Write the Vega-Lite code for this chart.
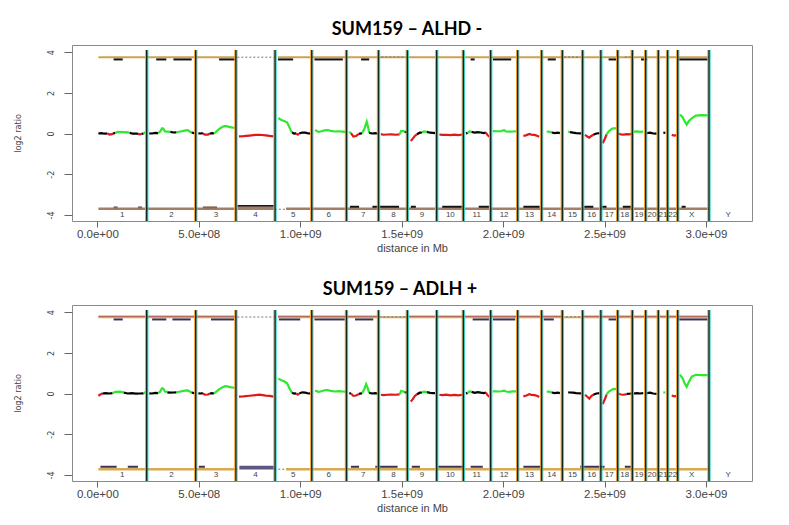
{
  "$schema": "https://vega.github.io/schema/vega-lite/v6.json",
  "padding": {"left": 12, "top": 20, "right": 0, "bottom": 0},
  "background": "white",
  "spacing": 26,
  "config": {
    "view": {"stroke": "#8a8a8a", "strokeWidth": 1},
    "axisX": {"tickSize": 6, "tickColor": "#666", "domain": false, "grid": false, "labelFont": "Liberation Sans", "labelFontSize": 11.5, "labelColor": "#444", "labelPadding": 1, "titleFont": "Liberation Sans", "titleFontSize": 11, "titleFontWeight": "normal", "titleColor": "#444", "titlePadding": 3, "labelFlush": false},
    "axisY": {"tickSize": 8, "tickColor": "#666", "domain": false, "grid": false, "labelFont": "DejaVu Sans Condensed", "labelFontSize": 9, "labelColor": "#444", "titleFont": "DejaVu Sans Condensed", "titleFontSize": 9, "titleFontWeight": "normal", "titleColor": "#444", "titleX": -55, "titleBaseline": "middle", "labelFlush": false},
    "title": {"font": "Lato", "fontSize": 18, "fontWeight": "bold", "color": "black", "offset": 6}
  },
  "datasets": {
    "bounds": [
      {"pos": 0.2435}, {"pos": 0.485}, {"pos": 0.683}, {"pos": 0.876}, {"pos": 1.057}, {"pos": 1.228}, {"pos": 1.386}, {"pos": 1.528}, {"pos": 1.673}, {"pos": 1.804}, {"pos": 1.939}, {"pos": 2.072}, {"pos": 2.19}, {"pos": 2.292}, {"pos": 2.392}, {"pos": 2.482}, {"pos": 2.565}, {"pos": 2.637}, {"pos": 2.703}, {"pos": 2.765}, {"pos": 2.811}, {"pos": 2.861}, {"pos": 3.015}
    ],
    "labs": [
      {"lab": "1", "pos": 0.122}, {"lab": "2", "pos": 0.365}, {"lab": "3", "pos": 0.585}, {"lab": "4", "pos": 0.78}, {"lab": "5", "pos": 0.965}, {"lab": "6", "pos": 1.14}, {"lab": "7", "pos": 1.31}, {"lab": "8", "pos": 1.46}, {"lab": "9", "pos": 1.6}, {"lab": "10", "pos": 1.74}, {"lab": "11", "pos": 1.87}, {"lab": "12", "pos": 2.005}, {"lab": "13", "pos": 2.13}, {"lab": "14", "pos": 2.24}, {"lab": "15", "pos": 2.342}, {"lab": "16", "pos": 2.437}, {"lab": "17", "pos": 2.523}, {"lab": "18", "pos": 2.6}, {"lab": "19", "pos": 2.67}, {"lab": "20", "pos": 2.734}, {"lab": "21", "pos": 2.788}, {"lab": "22", "pos": 2.836}, {"lab": "X", "pos": 2.93}, {"lab": "Y", "pos": 3.11}
    ],
    "mid1": [
      {"pos":0.005,"val":0.0,"seg":1,"call":"n"},{"pos":0.02,"val":0.02,"seg":1,"call":"n"},{"pos":0.035,"val":-0.01,"seg":1,"call":"n"},{"pos":0.05,"val":0.0,"seg":1,"call":"n"},
      {"pos":0.05,"val":0.0,"seg":2,"call":"l"},{"pos":0.06,"val":-0.05,"seg":2,"call":"l"},{"pos":0.072,"val":-0.03,"seg":2,"call":"l"},{"pos":0.078,"val":0.0,"seg":2,"call":"l"},
      {"pos":0.078,"val":0.0,"seg":3,"call":"n"},{"pos":0.088,"val":0.03,"seg":3,"call":"n"},
      {"pos":0.088,"val":0.03,"seg":4,"call":"g"},{"pos":0.1,"val":0.08,"seg":4,"call":"g"},{"pos":0.125,"val":0.07,"seg":4,"call":"g"},{"pos":0.15,"val":0.06,"seg":4,"call":"g"},{"pos":0.16,"val":0.03,"seg":4,"call":"g"},
      {"pos":0.16,"val":0.03,"seg":5,"call":"n"},{"pos":0.175,"val":-0.01,"seg":5,"call":"n"},{"pos":0.19,"val":0.0,"seg":5,"call":"n"},{"pos":0.2,"val":-0.02,"seg":5,"call":"n"},
      {"pos":0.2,"val":-0.02,"seg":6,"call":"l"},{"pos":0.21,"val":-0.04,"seg":6,"call":"l"},{"pos":0.218,"val":-0.02,"seg":6,"call":"l"},
      {"pos":0.218,"val":-0.02,"seg":7,"call":"n"},{"pos":0.228,"val":0.0,"seg":7,"call":"n"},
      {"pos":0.228,"val":0.0,"seg":8,"call":"g"},{"pos":0.236,"val":0.06,"seg":8,"call":"g"},{"pos":0.24,"val":0.08,"seg":8,"call":"g"},
      {"pos":0.256,"val":0.01,"seg":9,"call":"n"},{"pos":0.27,"val":0.0,"seg":9,"call":"n"},{"pos":0.285,"val":0.03,"seg":9,"call":"n"},{"pos":0.3,"val":0.02,"seg":9,"call":"n"},
      {"pos":0.3,"val":0.02,"seg":10,"call":"g"},{"pos":0.31,"val":0.1,"seg":10,"call":"g"},{"pos":0.318,"val":0.25,"seg":10,"call":"g"},{"pos":0.325,"val":0.24,"seg":10,"call":"g"},{"pos":0.333,"val":0.1,"seg":10,"call":"g"},{"pos":0.345,"val":0.09,"seg":10,"call":"g"},{"pos":0.36,"val":0.08,"seg":10,"call":"g"},
      {"pos":0.36,"val":0.08,"seg":11,"call":"n"},{"pos":0.375,"val":0.05,"seg":11,"call":"n"},{"pos":0.39,"val":0.06,"seg":11,"call":"n"},
      {"pos":0.39,"val":0.06,"seg":12,"call":"g"},{"pos":0.41,"val":0.1,"seg":12,"call":"g"},{"pos":0.43,"val":0.14,"seg":12,"call":"g"},{"pos":0.445,"val":0.17,"seg":12,"call":"g"},{"pos":0.455,"val":0.1,"seg":12,"call":"g"},{"pos":0.465,"val":0.05,"seg":12,"call":"g"},
      {"pos":0.465,"val":0.05,"seg":13,"call":"n"},{"pos":0.475,"val":0.02,"seg":13,"call":"n"},{"pos":0.482,"val":0.03,"seg":13,"call":"n"},
      {"pos":0.498,"val":0.01,"seg":14,"call":"n"},{"pos":0.51,"val":0.0,"seg":14,"call":"n"},{"pos":0.52,"val":0.02,"seg":14,"call":"n"},
      {"pos":0.52,"val":0.0,"seg":15,"call":"l"},{"pos":0.53,"val":-0.05,"seg":15,"call":"l"},{"pos":0.545,"val":-0.05,"seg":15,"call":"l"},{"pos":0.555,"val":0.0,"seg":15,"call":"l"},
      {"pos":0.555,"val":0.0,"seg":16,"call":"n"},{"pos":0.565,"val":0.02,"seg":16,"call":"n"},{"pos":0.575,"val":0.0,"seg":16,"call":"n"},
      {"pos":0.575,"val":0.0,"seg":17,"call":"g"},{"pos":0.585,"val":0.08,"seg":17,"call":"g"},{"pos":0.6,"val":0.22,"seg":17,"call":"g"},{"pos":0.615,"val":0.32,"seg":17,"call":"g"},{"pos":0.63,"val":0.37,"seg":17,"call":"g"},{"pos":0.645,"val":0.34,"seg":17,"call":"g"},{"pos":0.66,"val":0.3,"seg":17,"call":"g"},{"pos":0.68,"val":0.27,"seg":17,"call":"g"},
      {"pos":0.698,"val":-0.14,"seg":18,"call":"l"},{"pos":0.72,"val":-0.13,"seg":18,"call":"l"},{"pos":0.75,"val":-0.1,"seg":18,"call":"l"},{"pos":0.78,"val":-0.07,"seg":18,"call":"l"},{"pos":0.8,"val":-0.06,"seg":18,"call":"l"},{"pos":0.83,"val":-0.09,"seg":18,"call":"l"},{"pos":0.85,"val":-0.12,"seg":18,"call":"l"},{"pos":0.868,"val":-0.14,"seg":18,"call":"l"},
      {"pos":0.892,"val":0.76,"seg":19,"call":"g"},{"pos":0.905,"val":0.68,"seg":19,"call":"g"},{"pos":0.92,"val":0.62,"seg":19,"call":"g"},{"pos":0.935,"val":0.55,"seg":19,"call":"g"},{"pos":0.945,"val":0.35,"seg":19,"call":"g"},{"pos":0.955,"val":0.12,"seg":19,"call":"g"},{"pos":0.96,"val":0.05,"seg":19,"call":"g"},
      {"pos":0.96,"val":0.05,"seg":20,"call":"n"},{"pos":0.97,"val":0.0,"seg":20,"call":"n"},{"pos":0.98,"val":0.01,"seg":20,"call":"n"},
      {"pos":0.98,"val":0.0,"seg":21,"call":"l"},{"pos":0.988,"val":-0.05,"seg":21,"call":"l"},{"pos":0.995,"val":-0.03,"seg":21,"call":"l"},
      {"pos":0.995,"val":0.0,"seg":22,"call":"n"},{"pos":1.01,"val":0.05,"seg":22,"call":"n"},{"pos":1.025,"val":0.04,"seg":22,"call":"n"},{"pos":1.04,"val":0.0,"seg":22,"call":"n"},{"pos":1.052,"val":0.01,"seg":22,"call":"n"},
      {"pos":1.073,"val":0.17,"seg":23,"call":"g"},{"pos":1.09,"val":0.08,"seg":23,"call":"g"},{"pos":1.1,"val":0.1,"seg":23,"call":"g"},{"pos":1.12,"val":0.15,"seg":23,"call":"g"},{"pos":1.135,"val":0.17,"seg":23,"call":"g"},{"pos":1.15,"val":0.13,"seg":23,"call":"g"},{"pos":1.17,"val":0.1,"seg":23,"call":"g"},{"pos":1.19,"val":0.11,"seg":23,"call":"g"},{"pos":1.21,"val":0.09,"seg":23,"call":"g"},{"pos":1.226,"val":0.07,"seg":23,"call":"g"},
      {"pos":1.242,"val":0.08,"seg":24,"call":"g"},{"pos":1.25,"val":0.02,"seg":24,"call":"g"},
      {"pos":1.25,"val":0.02,"seg":25,"call":"l"},{"pos":1.262,"val":-0.15,"seg":25,"call":"l"},{"pos":1.275,"val":-0.12,"seg":25,"call":"l"},{"pos":1.29,"val":-0.02,"seg":25,"call":"l"},
      {"pos":1.29,"val":-0.02,"seg":26,"call":"n"},{"pos":1.305,"val":0.02,"seg":26,"call":"n"},
      {"pos":1.305,"val":0.02,"seg":27,"call":"g"},{"pos":1.315,"val":0.2,"seg":27,"call":"g"},{"pos":1.328,"val":0.58,"seg":27,"call":"g"},{"pos":1.335,"val":0.3,"seg":27,"call":"g"},{"pos":1.34,"val":0.03,"seg":27,"call":"g"},
      {"pos":1.34,"val":0.03,"seg":28,"call":"n"},{"pos":1.355,"val":0.0,"seg":28,"call":"n"},{"pos":1.37,"val":0.02,"seg":28,"call":"n"},{"pos":1.383,"val":0.0,"seg":28,"call":"n"},
      {"pos":1.398,"val":-0.03,"seg":29,"call":"l"},{"pos":1.41,"val":-0.06,"seg":29,"call":"l"},{"pos":1.43,"val":-0.05,"seg":29,"call":"l"},{"pos":1.45,"val":-0.04,"seg":29,"call":"l"},{"pos":1.47,"val":-0.06,"seg":29,"call":"l"},{"pos":1.49,"val":-0.04,"seg":29,"call":"l"},
      {"pos":1.49,"val":-0.04,"seg":30,"call":"g"},{"pos":1.497,"val":0.12,"seg":30,"call":"g"},{"pos":1.51,"val":0.12,"seg":30,"call":"g"},{"pos":1.515,"val":0.08,"seg":30,"call":"g"},
      {"pos":1.515,"val":0.08,"seg":31,"call":"n"},{"pos":1.525,"val":0.06,"seg":31,"call":"n"},
      {"pos":1.545,"val":-0.37,"seg":32,"call":"l"},{"pos":1.555,"val":-0.25,"seg":32,"call":"l"},{"pos":1.565,"val":-0.12,"seg":32,"call":"l"},{"pos":1.575,"val":-0.04,"seg":32,"call":"l"},
      {"pos":1.575,"val":-0.04,"seg":33,"call":"n"},{"pos":1.59,"val":0.04,"seg":33,"call":"n"},{"pos":1.6,"val":0.05,"seg":33,"call":"n"},
      {"pos":1.6,"val":0.05,"seg":34,"call":"g"},{"pos":1.61,"val":0.1,"seg":34,"call":"g"},{"pos":1.625,"val":0.08,"seg":34,"call":"g"},
      {"pos":1.625,"val":0.08,"seg":35,"call":"n"},{"pos":1.64,"val":0.04,"seg":35,"call":"n"},{"pos":1.655,"val":0.03,"seg":35,"call":"n"},{"pos":1.665,"val":0.02,"seg":35,"call":"n"},
      {"pos":1.686,"val":-0.05,"seg":36,"call":"l"},{"pos":1.7,"val":-0.07,"seg":36,"call":"l"},{"pos":1.72,"val":-0.06,"seg":36,"call":"l"},{"pos":1.74,"val":-0.08,"seg":36,"call":"l"},{"pos":1.76,"val":-0.06,"seg":36,"call":"l"},{"pos":1.78,"val":-0.08,"seg":36,"call":"l"},{"pos":1.8,"val":-0.05,"seg":36,"call":"l"},
      {"pos":1.817,"val":0.0,"seg":37,"call":"n"},{"pos":1.825,"val":0.03,"seg":37,"call":"n"},
      {"pos":1.825,"val":0.03,"seg":38,"call":"g"},{"pos":1.835,"val":0.1,"seg":38,"call":"g"},{"pos":1.845,"val":0.08,"seg":38,"call":"g"},
      {"pos":1.845,"val":0.08,"seg":39,"call":"n"},{"pos":1.86,"val":0.04,"seg":39,"call":"n"},{"pos":1.875,"val":0.07,"seg":39,"call":"n"},{"pos":1.89,"val":0.05,"seg":39,"call":"n"},{"pos":1.905,"val":0.02,"seg":39,"call":"n"},{"pos":1.915,"val":0.04,"seg":39,"call":"n"},
      {"pos":1.915,"val":0.04,"seg":40,"call":"l"},{"pos":1.925,"val":-0.1,"seg":40,"call":"l"},{"pos":1.935,"val":-0.17,"seg":40,"call":"l"},
      {"pos":1.949,"val":0.12,"seg":41,"call":"g"},{"pos":1.97,"val":0.11,"seg":41,"call":"g"},{"pos":1.99,"val":0.12,"seg":41,"call":"g"},{"pos":2.005,"val":0.16,"seg":41,"call":"g"},{"pos":2.015,"val":0.1,"seg":41,"call":"g"},{"pos":2.03,"val":0.09,"seg":41,"call":"g"},{"pos":2.05,"val":0.1,"seg":41,"call":"g"},{"pos":2.067,"val":0.11,"seg":41,"call":"g"},
      {"pos":2.1,"val":-0.12,"seg":42,"call":"l"},{"pos":2.115,"val":-0.08,"seg":42,"call":"l"},{"pos":2.13,"val":-0.02,"seg":42,"call":"l"},{"pos":2.14,"val":-0.06,"seg":42,"call":"l"},{"pos":2.155,"val":-0.07,"seg":42,"call":"l"},{"pos":2.17,"val":-0.12,"seg":42,"call":"l"},{"pos":2.178,"val":-0.16,"seg":42,"call":"l"},
      {"pos":2.215,"val":0.1,"seg":43,"call":"g"},{"pos":2.23,"val":0.08,"seg":43,"call":"g"},{"pos":2.24,"val":0.05,"seg":43,"call":"g"},
      {"pos":2.24,"val":0.05,"seg":44,"call":"n"},{"pos":2.255,"val":0.02,"seg":44,"call":"n"},{"pos":2.27,"val":0.04,"seg":44,"call":"n"},{"pos":2.28,"val":0.02,"seg":44,"call":"n"},
      {"pos":2.321,"val":0.09,"seg":45,"call":"g"},{"pos":2.33,"val":0.07,"seg":45,"call":"g"},
      {"pos":2.33,"val":0.07,"seg":46,"call":"n"},{"pos":2.345,"val":0.04,"seg":46,"call":"n"},{"pos":2.36,"val":0.02,"seg":46,"call":"n"},{"pos":2.38,"val":0.01,"seg":46,"call":"n"},{"pos":2.392,"val":0.0,"seg":46,"call":"n"},
      {"pos":2.404,"val":-0.06,"seg":47,"call":"l"},{"pos":2.415,"val":-0.15,"seg":47,"call":"l"},{"pos":2.425,"val":-0.2,"seg":47,"call":"l"},{"pos":2.435,"val":-0.12,"seg":47,"call":"l"},{"pos":2.445,"val":-0.06,"seg":47,"call":"l"},
      {"pos":2.445,"val":-0.06,"seg":48,"call":"n"},{"pos":2.46,"val":0.0,"seg":48,"call":"n"},{"pos":2.478,"val":0.02,"seg":48,"call":"n"},
      {"pos":2.491,"val":-0.48,"seg":49,"call":"l"},{"pos":2.5,"val":-0.3,"seg":49,"call":"l"},{"pos":2.51,"val":-0.05,"seg":49,"call":"l"},
      {"pos":2.51,"val":-0.05,"seg":50,"call":"g"},{"pos":2.52,"val":0.1,"seg":50,"call":"g"},{"pos":2.535,"val":0.22,"seg":50,"call":"g"},{"pos":2.543,"val":0.25,"seg":50,"call":"g"},{"pos":2.56,"val":0.25,"seg":50,"call":"g"},
      {"pos":2.568,"val":0.0,"seg":51,"call":"l"},{"pos":2.58,"val":-0.04,"seg":51,"call":"l"},{"pos":2.595,"val":-0.05,"seg":51,"call":"l"},{"pos":2.61,"val":-0.03,"seg":51,"call":"l"},{"pos":2.625,"val":-0.04,"seg":51,"call":"l"},{"pos":2.634,"val":0.0,"seg":51,"call":"l"},
      {"pos":2.642,"val":0.09,"seg":52,"call":"g"},{"pos":2.66,"val":0.1,"seg":52,"call":"g"},{"pos":2.675,"val":0.08,"seg":52,"call":"g"},{"pos":2.691,"val":0.09,"seg":52,"call":"g"},
      {"pos":2.708,"val":0.02,"seg":53,"call":"n"},{"pos":2.725,"val":0.04,"seg":53,"call":"n"},{"pos":2.74,"val":0.0,"seg":53,"call":"n"},{"pos":2.757,"val":-0.01,"seg":53,"call":"n"},
      {"pos":2.79,"val":0.04,"seg":54,"call":"n"},{"pos":2.8,"val":0.03,"seg":54,"call":"n"},
      {"pos":2.831,"val":-0.07,"seg":55,"call":"l"},{"pos":2.845,"val":-0.1,"seg":55,"call":"l"},{"pos":2.856,"val":-0.08,"seg":55,"call":"l"},
      {"pos":2.872,"val":0.94,"seg":56,"call":"g"},{"pos":2.885,"val":0.8,"seg":56,"call":"g"},{"pos":2.895,"val":0.6,"seg":56,"call":"g"},{"pos":2.905,"val":0.44,"seg":56,"call":"g"},{"pos":2.915,"val":0.6,"seg":56,"call":"g"},{"pos":2.93,"val":0.75,"seg":56,"call":"g"},{"pos":2.95,"val":0.88,"seg":56,"call":"g"},{"pos":2.98,"val":0.9,"seg":56,"call":"g"},{"pos":3.011,"val":0.89,"seg":56,"call":"g"}
    ],
    "mid2": [
      {"pos":0.005,"val":-0.11,"seg":1,"call":"l"},{"pos":0.015,"val":-0.05,"seg":1,"call":"l"},{"pos":0.025,"val":0.0,"seg":1,"call":"l"},
      {"pos":0.025,"val":0.0,"seg":2,"call":"n"},{"pos":0.04,"val":0.02,"seg":2,"call":"n"},{"pos":0.06,"val":0.0,"seg":2,"call":"n"},{"pos":0.075,"val":0.02,"seg":2,"call":"n"},
      {"pos":0.075,"val":0.02,"seg":3,"call":"g"},{"pos":0.09,"val":0.08,"seg":3,"call":"g"},{"pos":0.11,"val":0.09,"seg":3,"call":"g"},{"pos":0.13,"val":0.06,"seg":3,"call":"g"},
      {"pos":0.13,"val":0.04,"seg":4,"call":"n"},{"pos":0.15,"val":0.0,"seg":4,"call":"n"},{"pos":0.17,"val":0.02,"seg":4,"call":"n"},{"pos":0.19,"val":-0.01,"seg":4,"call":"n"},{"pos":0.21,"val":0.0,"seg":4,"call":"n"},{"pos":0.228,"val":0.01,"seg":4,"call":"n"},
      {"pos":0.228,"val":0.01,"seg":5,"call":"g"},{"pos":0.236,"val":0.06,"seg":5,"call":"g"},{"pos":0.24,"val":0.08,"seg":5,"call":"g"},
      {"pos":0.256,"val":0.01,"seg":6,"call":"n"},{"pos":0.27,"val":0.0,"seg":6,"call":"n"},{"pos":0.285,"val":0.03,"seg":6,"call":"n"},{"pos":0.3,"val":0.02,"seg":6,"call":"n"},
      {"pos":0.3,"val":0.02,"seg":7,"call":"g"},{"pos":0.31,"val":0.1,"seg":7,"call":"g"},{"pos":0.318,"val":0.26,"seg":7,"call":"g"},{"pos":0.325,"val":0.24,"seg":7,"call":"g"},{"pos":0.333,"val":0.1,"seg":7,"call":"g"},{"pos":0.345,"val":0.08,"seg":7,"call":"g"},
      {"pos":0.345,"val":0.06,"seg":8,"call":"n"},{"pos":0.36,"val":0.04,"seg":8,"call":"n"},{"pos":0.375,"val":0.05,"seg":8,"call":"n"},{"pos":0.39,"val":0.06,"seg":8,"call":"n"},
      {"pos":0.39,"val":0.06,"seg":9,"call":"g"},{"pos":0.41,"val":0.1,"seg":9,"call":"g"},{"pos":0.43,"val":0.14,"seg":9,"call":"g"},{"pos":0.445,"val":0.15,"seg":9,"call":"g"},{"pos":0.455,"val":0.1,"seg":9,"call":"g"},{"pos":0.465,"val":0.05,"seg":9,"call":"g"},
      {"pos":0.465,"val":0.05,"seg":10,"call":"n"},{"pos":0.475,"val":0.02,"seg":10,"call":"n"},{"pos":0.482,"val":0.03,"seg":10,"call":"n"},
      {"pos":0.498,"val":0.01,"seg":11,"call":"n"},{"pos":0.51,"val":0.0,"seg":11,"call":"n"},{"pos":0.52,"val":0.02,"seg":11,"call":"n"},
      {"pos":0.52,"val":0.0,"seg":12,"call":"l"},{"pos":0.53,"val":-0.06,"seg":12,"call":"l"},{"pos":0.545,"val":-0.05,"seg":12,"call":"l"},{"pos":0.555,"val":0.0,"seg":12,"call":"l"},
      {"pos":0.555,"val":0.0,"seg":13,"call":"n"},{"pos":0.565,"val":0.02,"seg":13,"call":"n"},{"pos":0.575,"val":0.0,"seg":13,"call":"n"},
      {"pos":0.575,"val":0.0,"seg":14,"call":"g"},{"pos":0.585,"val":0.08,"seg":14,"call":"g"},{"pos":0.6,"val":0.2,"seg":14,"call":"g"},{"pos":0.615,"val":0.3,"seg":14,"call":"g"},{"pos":0.63,"val":0.36,"seg":14,"call":"g"},{"pos":0.645,"val":0.34,"seg":14,"call":"g"},{"pos":0.66,"val":0.3,"seg":14,"call":"g"},{"pos":0.68,"val":0.28,"seg":14,"call":"g"},
      {"pos":0.698,"val":-0.15,"seg":15,"call":"l"},{"pos":0.72,"val":-0.14,"seg":15,"call":"l"},{"pos":0.75,"val":-0.11,"seg":15,"call":"l"},{"pos":0.78,"val":-0.08,"seg":15,"call":"l"},{"pos":0.8,"val":-0.06,"seg":15,"call":"l"},{"pos":0.83,"val":-0.1,"seg":15,"call":"l"},{"pos":0.85,"val":-0.12,"seg":15,"call":"l"},{"pos":0.868,"val":-0.15,"seg":15,"call":"l"},
      {"pos":0.892,"val":0.73,"seg":16,"call":"g"},{"pos":0.905,"val":0.66,"seg":16,"call":"g"},{"pos":0.92,"val":0.6,"seg":16,"call":"g"},{"pos":0.935,"val":0.5,"seg":16,"call":"g"},{"pos":0.945,"val":0.3,"seg":16,"call":"g"},{"pos":0.955,"val":0.1,"seg":16,"call":"g"},{"pos":0.96,"val":0.04,"seg":16,"call":"g"},
      {"pos":0.96,"val":0.04,"seg":17,"call":"n"},{"pos":0.97,"val":0.0,"seg":17,"call":"n"},{"pos":0.98,"val":0.01,"seg":17,"call":"n"},
      {"pos":0.98,"val":0.0,"seg":18,"call":"l"},{"pos":0.988,"val":-0.05,"seg":18,"call":"l"},{"pos":0.995,"val":-0.03,"seg":18,"call":"l"},
      {"pos":0.995,"val":0.0,"seg":19,"call":"n"},{"pos":1.01,"val":0.06,"seg":19,"call":"n"},{"pos":1.025,"val":0.04,"seg":19,"call":"n"},{"pos":1.04,"val":0.0,"seg":19,"call":"n"},{"pos":1.052,"val":0.01,"seg":19,"call":"n"},
      {"pos":1.073,"val":0.15,"seg":20,"call":"g"},{"pos":1.09,"val":0.08,"seg":20,"call":"g"},{"pos":1.1,"val":0.1,"seg":20,"call":"g"},{"pos":1.12,"val":0.16,"seg":20,"call":"g"},{"pos":1.135,"val":0.17,"seg":20,"call":"g"},{"pos":1.15,"val":0.13,"seg":20,"call":"g"},{"pos":1.17,"val":0.1,"seg":20,"call":"g"},{"pos":1.19,"val":0.12,"seg":20,"call":"g"},{"pos":1.21,"val":0.1,"seg":20,"call":"g"},{"pos":1.226,"val":0.08,"seg":20,"call":"g"},
      {"pos":1.242,"val":0.02,"seg":21,"call":"n"},{"pos":1.25,"val":0.0,"seg":21,"call":"n"},
      {"pos":1.25,"val":0.0,"seg":22,"call":"l"},{"pos":1.262,"val":-0.12,"seg":22,"call":"l"},{"pos":1.275,"val":-0.1,"seg":22,"call":"l"},{"pos":1.29,"val":-0.02,"seg":22,"call":"l"},
      {"pos":1.29,"val":-0.02,"seg":23,"call":"n"},{"pos":1.305,"val":0.02,"seg":23,"call":"n"},
      {"pos":1.305,"val":0.02,"seg":24,"call":"g"},{"pos":1.315,"val":0.2,"seg":24,"call":"g"},{"pos":1.325,"val":0.46,"seg":24,"call":"g"},{"pos":1.333,"val":0.25,"seg":24,"call":"g"},{"pos":1.34,"val":0.03,"seg":24,"call":"g"},
      {"pos":1.34,"val":0.03,"seg":25,"call":"n"},{"pos":1.355,"val":0.0,"seg":25,"call":"n"},{"pos":1.37,"val":0.02,"seg":25,"call":"n"},{"pos":1.383,"val":0.0,"seg":25,"call":"n"},
      {"pos":1.398,"val":-0.06,"seg":26,"call":"l"},{"pos":1.41,"val":-0.08,"seg":26,"call":"l"},{"pos":1.43,"val":-0.06,"seg":26,"call":"l"},{"pos":1.45,"val":-0.05,"seg":26,"call":"l"},{"pos":1.47,"val":-0.06,"seg":26,"call":"l"},{"pos":1.49,"val":-0.04,"seg":26,"call":"l"},
      {"pos":1.49,"val":-0.04,"seg":27,"call":"g"},{"pos":1.497,"val":0.12,"seg":27,"call":"g"},{"pos":1.51,"val":0.1,"seg":27,"call":"g"},{"pos":1.515,"val":0.06,"seg":27,"call":"g"},
      {"pos":1.515,"val":0.06,"seg":28,"call":"n"},{"pos":1.525,"val":0.04,"seg":28,"call":"n"},
      {"pos":1.545,"val":-0.4,"seg":29,"call":"l"},{"pos":1.555,"val":-0.28,"seg":29,"call":"l"},{"pos":1.565,"val":-0.12,"seg":29,"call":"l"},{"pos":1.575,"val":-0.04,"seg":29,"call":"l"},
      {"pos":1.575,"val":-0.04,"seg":30,"call":"n"},{"pos":1.59,"val":0.04,"seg":30,"call":"n"},{"pos":1.6,"val":0.05,"seg":30,"call":"n"},
      {"pos":1.6,"val":0.05,"seg":31,"call":"g"},{"pos":1.61,"val":0.09,"seg":31,"call":"g"},{"pos":1.625,"val":0.07,"seg":31,"call":"g"},
      {"pos":1.625,"val":0.07,"seg":32,"call":"n"},{"pos":1.64,"val":0.03,"seg":32,"call":"n"},{"pos":1.655,"val":0.02,"seg":32,"call":"n"},{"pos":1.665,"val":0.02,"seg":32,"call":"n"},
      {"pos":1.686,"val":-0.06,"seg":33,"call":"l"},{"pos":1.7,"val":-0.08,"seg":33,"call":"l"},{"pos":1.72,"val":-0.06,"seg":33,"call":"l"},{"pos":1.74,"val":-0.09,"seg":33,"call":"l"},{"pos":1.76,"val":-0.07,"seg":33,"call":"l"},{"pos":1.78,"val":-0.09,"seg":33,"call":"l"},{"pos":1.8,"val":-0.06,"seg":33,"call":"l"},
      {"pos":1.817,"val":0.0,"seg":34,"call":"n"},{"pos":1.825,"val":0.03,"seg":34,"call":"n"},
      {"pos":1.825,"val":0.03,"seg":35,"call":"g"},{"pos":1.835,"val":0.1,"seg":35,"call":"g"},{"pos":1.845,"val":0.08,"seg":35,"call":"g"},
      {"pos":1.845,"val":0.08,"seg":36,"call":"n"},{"pos":1.86,"val":0.03,"seg":36,"call":"n"},{"pos":1.875,"val":0.07,"seg":36,"call":"n"},{"pos":1.89,"val":0.04,"seg":36,"call":"n"},{"pos":1.905,"val":0.02,"seg":36,"call":"n"},{"pos":1.915,"val":0.04,"seg":36,"call":"n"},
      {"pos":1.915,"val":0.04,"seg":37,"call":"l"},{"pos":1.925,"val":-0.1,"seg":37,"call":"l"},{"pos":1.935,"val":-0.18,"seg":37,"call":"l"},
      {"pos":1.949,"val":0.1,"seg":38,"call":"g"},{"pos":1.97,"val":0.1,"seg":38,"call":"g"},{"pos":1.99,"val":0.11,"seg":38,"call":"g"},{"pos":2.005,"val":0.14,"seg":38,"call":"g"},{"pos":2.015,"val":0.1,"seg":38,"call":"g"},{"pos":2.03,"val":0.08,"seg":38,"call":"g"},{"pos":2.05,"val":0.1,"seg":38,"call":"g"},{"pos":2.067,"val":0.1,"seg":38,"call":"g"},
      {"pos":2.1,"val":-0.14,"seg":39,"call":"l"},{"pos":2.115,"val":-0.1,"seg":39,"call":"l"},{"pos":2.13,"val":-0.03,"seg":39,"call":"l"},{"pos":2.14,"val":-0.07,"seg":39,"call":"l"},{"pos":2.155,"val":-0.08,"seg":39,"call":"l"},{"pos":2.17,"val":-0.12,"seg":39,"call":"l"},{"pos":2.178,"val":-0.17,"seg":39,"call":"l"},
      {"pos":2.215,"val":0.1,"seg":40,"call":"g"},{"pos":2.23,"val":0.08,"seg":40,"call":"g"},{"pos":2.24,"val":0.05,"seg":40,"call":"g"},
      {"pos":2.24,"val":0.05,"seg":41,"call":"n"},{"pos":2.255,"val":0.02,"seg":41,"call":"n"},{"pos":2.27,"val":0.04,"seg":41,"call":"n"},{"pos":2.28,"val":0.02,"seg":41,"call":"n"},
      {"pos":2.321,"val":0.06,"seg":42,"call":"n"},{"pos":2.33,"val":0.05,"seg":42,"call":"n"},{"pos":2.345,"val":0.04,"seg":42,"call":"n"},{"pos":2.36,"val":0.02,"seg":42,"call":"n"},{"pos":2.38,"val":0.01,"seg":42,"call":"n"},{"pos":2.392,"val":0.0,"seg":42,"call":"n"},
      {"pos":2.404,"val":-0.06,"seg":43,"call":"l"},{"pos":2.415,"val":-0.16,"seg":43,"call":"l"},{"pos":2.425,"val":-0.25,"seg":43,"call":"l"},{"pos":2.435,"val":-0.13,"seg":43,"call":"l"},{"pos":2.445,"val":-0.06,"seg":43,"call":"l"},
      {"pos":2.445,"val":-0.06,"seg":44,"call":"n"},{"pos":2.46,"val":0.0,"seg":44,"call":"n"},{"pos":2.478,"val":0.02,"seg":44,"call":"n"},
      {"pos":2.491,"val":-0.52,"seg":45,"call":"l"},{"pos":2.5,"val":-0.32,"seg":45,"call":"l"},{"pos":2.51,"val":-0.05,"seg":45,"call":"l"},
      {"pos":2.51,"val":-0.05,"seg":46,"call":"g"},{"pos":2.52,"val":0.08,"seg":46,"call":"g"},{"pos":2.535,"val":0.18,"seg":46,"call":"g"},{"pos":2.543,"val":0.23,"seg":46,"call":"g"},{"pos":2.56,"val":0.22,"seg":46,"call":"g"},
      {"pos":2.568,"val":0.0,"seg":47,"call":"l"},{"pos":2.58,"val":-0.05,"seg":47,"call":"l"},{"pos":2.595,"val":-0.06,"seg":47,"call":"l"},{"pos":2.61,"val":-0.03,"seg":47,"call":"l"},
      {"pos":2.61,"val":-0.02,"seg":48,"call":"n"},{"pos":2.625,"val":-0.01,"seg":48,"call":"n"},{"pos":2.634,"val":0.0,"seg":48,"call":"n"},
      {"pos":2.642,"val":0.0,"seg":49,"call":"n"},{"pos":2.66,"val":0.02,"seg":49,"call":"n"},{"pos":2.675,"val":0.0,"seg":49,"call":"n"},{"pos":2.691,"val":0.02,"seg":49,"call":"n"},
      {"pos":2.708,"val":0.02,"seg":50,"call":"n"},{"pos":2.725,"val":0.04,"seg":50,"call":"n"},{"pos":2.74,"val":0.0,"seg":50,"call":"n"},{"pos":2.757,"val":-0.02,"seg":50,"call":"n"},
      {"pos":2.79,"val":0.06,"seg":51,"call":"g"},{"pos":2.8,"val":0.05,"seg":51,"call":"g"},
      {"pos":2.831,"val":-0.1,"seg":52,"call":"l"},{"pos":2.845,"val":-0.14,"seg":52,"call":"l"},{"pos":2.856,"val":-0.12,"seg":52,"call":"l"},
      {"pos":2.872,"val":0.92,"seg":53,"call":"g"},{"pos":2.885,"val":0.75,"seg":53,"call":"g"},{"pos":2.895,"val":0.5,"seg":53,"call":"g"},{"pos":2.905,"val":0.33,"seg":53,"call":"g"},{"pos":2.915,"val":0.55,"seg":53,"call":"g"},{"pos":2.93,"val":0.83,"seg":53,"call":"g"},{"pos":2.95,"val":0.92,"seg":53,"call":"g"},{"pos":2.98,"val":0.9,"seg":53,"call":"g"},{"pos":3.011,"val":0.9,"seg":53,"call":"g"}
    ],
    "band1": [
      {"p1":0.005,"p2":0.685,"val":3.75,"kind":"tan"},{"p1":0.89,"p2":3.015,"val":3.75,"kind":"tan"},
      {"p1":0.69,"p2":0.875,"val":3.75,"kind":"dash"},{"p1":1.4,"p2":1.52,"val":3.76,"kind":"dash"},{"p1":2.3,"p2":2.38,"val":3.76,"kind":"dash"},{"p1":2.6,"p2":2.63,"val":3.76,"kind":"dash"},
      {"p1":0.08,"p2":0.125,"val":3.64,"kind":"blk"},{"p1":0.29,"p2":0.34,"val":3.64,"kind":"blk"},{"p1":0.375,"p2":0.465,"val":3.64,"kind":"blk"},{"p1":0.6,"p2":0.68,"val":3.64,"kind":"blk"},{"p1":0.89,"p2":0.965,"val":3.64,"kind":"blk"},{"p1":1.07,"p2":1.21,"val":3.64,"kind":"blk"},{"p1":1.3,"p2":1.34,"val":3.64,"kind":"blk"},{"p1":1.84,"p2":1.86,"val":3.64,"kind":"blk"},{"p1":1.95,"p2":2.04,"val":3.64,"kind":"blk"},{"p1":2.22,"p2":2.26,"val":3.64,"kind":"blk"},{"p1":2.52,"p2":2.56,"val":3.64,"kind":"blk"},{"p1":2.68,"p2":2.71,"val":3.64,"kind":"blk"},{"p1":2.865,"p2":3.01,"val":3.64,"kind":"blk"},
      {"p1":0.005,"p2":0.675,"val":-3.7,"kind":"brown"},{"p1":0.93,"p2":3.015,"val":-3.7,"kind":"brown"},
      {"p1":0.08,"p2":0.1,"val":-3.63,"kind":"bump"},{"p1":0.2,"p2":0.22,"val":-3.63,"kind":"bump"},{"p1":0.52,"p2":0.59,"val":-3.63,"kind":"bump"},
      {"p1":0.675,"p2":0.69,"val":-3.72,"kind":"dash"},{"p1":0.875,"p2":0.93,"val":-3.72,"kind":"dash"},
      {"p1":1.245,"p2":1.29,"val":-3.6,"kind":"blk"},{"p1":1.356,"p2":1.487,"val":-3.6,"kind":"blk"},{"p1":1.545,"p2":1.57,"val":-3.6,"kind":"blk"},{"p1":1.7,"p2":1.8,"val":-3.6,"kind":"blk"},{"p1":1.88,"p2":1.93,"val":-3.6,"kind":"blk"},{"p1":2.1,"p2":2.18,"val":-3.6,"kind":"blk"},{"p1":2.4,"p2":2.445,"val":-3.6,"kind":"blk"},{"p1":2.485,"p2":2.51,"val":-3.6,"kind":"blk"},{"p1":2.59,"p2":2.63,"val":-3.6,"kind":"blk"},{"p1":2.88,"p2":2.9,"val":-3.6,"kind":"blk"}
    ],
    "block1": [
      {"p1":0.69,"p2":0.872,"val":-3.55,"val2":-3.76}
    ],
    "band2": [
      {"p1":0.005,"p2":0.685,"val":3.75,"kind":"tan"},{"p1":0.89,"p2":3.015,"val":3.75,"kind":"tan"},
      {"p1":0.005,"p2":0.685,"val":3.8,"kind":"red"},{"p1":0.89,"p2":1.39,"val":3.8,"kind":"red"},{"p1":1.53,"p2":2.29,"val":3.8,"kind":"red"},{"p1":2.39,"p2":3.015,"val":3.8,"kind":"red"},
      {"p1":0.69,"p2":0.875,"val":3.76,"kind":"dash"},{"p1":1.39,"p2":1.53,"val":3.77,"kind":"dash"},{"p1":2.29,"p2":2.39,"val":3.77,"kind":"dash"},
      {"p1":0.08,"p2":0.125,"val":3.64,"kind":"blk"},{"p1":0.27,"p2":0.34,"val":3.64,"kind":"blk"},{"p1":0.37,"p2":0.46,"val":3.64,"kind":"blk"},{"p1":0.56,"p2":0.675,"val":3.64,"kind":"blk"},{"p1":0.895,"p2":1.0,"val":3.64,"kind":"blk"},{"p1":1.07,"p2":1.22,"val":3.64,"kind":"blk"},{"p1":1.27,"p2":1.36,"val":3.64,"kind":"blk"},{"p1":1.85,"p2":1.93,"val":3.64,"kind":"blk"},{"p1":1.95,"p2":2.06,"val":3.64,"kind":"blk"},{"p1":2.2,"p2":2.25,"val":3.64,"kind":"blk"},{"p1":2.52,"p2":2.56,"val":3.64,"kind":"blk"},{"p1":2.865,"p2":3.01,"val":3.64,"kind":"blk"},
      {"p1":0.005,"p2":0.68,"val":-3.72,"kind":"brown"},{"p1":0.93,"p2":3.015,"val":-3.72,"kind":"brown"},
      {"p1":0.68,"p2":0.7,"val":-3.72,"kind":"dash"},{"p1":0.872,"p2":0.93,"val":-3.72,"kind":"dash"},
      {"p1":0.015,"p2":0.095,"val":-3.6,"kind":"blk"},{"p1":0.15,"p2":0.2,"val":-3.6,"kind":"blk"},{"p1":0.5,"p2":0.53,"val":-3.6,"kind":"blk"},{"p1":1.25,"p2":1.29,"val":-3.6,"kind":"blk"},{"p1":1.37,"p2":1.48,"val":-3.6,"kind":"blk"},{"p1":1.55,"p2":1.59,"val":-3.6,"kind":"blk"},{"p1":1.68,"p2":1.81,"val":-3.6,"kind":"blk"},{"p1":1.84,"p2":1.9,"val":-3.6,"kind":"blk"},{"p1":2.1,"p2":2.19,"val":-3.6,"kind":"blk"},{"p1":2.38,"p2":2.5,"val":-3.6,"kind":"blk"},{"p1":2.6,"p2":2.63,"val":-3.6,"kind":"blk"}
    ],
    "block2": [
      {"p1":0.7,"p2":0.872,"val":-3.55,"val2":-3.74}
    ]
  },
  "vconcat": [
    {
      "title": {"text": "SUM159 – ALHD -", "dx": -5},
      "width": 680, "height": 176,
      "layer": [
        {"data": {"name": "band1"}, "transform": [{"filter": "datum.kind == 'tan'"}], "mark": {"type": "rule", "color": "#cfa050", "strokeWidth": 2}, "encoding": {"x": {"field": "p1", "type": "quantitative", "scale": {"domain": [-0.125, 3.227], "nice": false, "zero": false}, "axis": {"title": "distance in Mb", "values": [0, 0.5, 1, 1.5, 2, 2.5, 3], "labelExpr": "datum.value == 0 ? '0.0e+00' : (datum.value < 1 ? format(datum.value * 10, '.1f') + 'e+08' : format(datum.value, '.1f') + 'e+09')"}}, "x2": {"field": "p2"}, "y": {"field": "val", "type": "quantitative", "scale": {"domain": [-4.3, 4.35], "nice": false, "zero": false}, "axis": {"title": "log2 ratio", "values": [-4, -2, 0, 2, 4], "labelAngle": 270, "labelAlign": "center", "labelBaseline": "bottom", "labelPadding": 9, "labelExpr": "datum.value < 0 ? '-' + abs(datum.value) : '' + datum.value"}}}},
        {"data": {"name": "band1"}, "transform": [{"filter": "datum.kind == 'brown'"}], "mark": {"type": "rule", "color": "#a27e66", "strokeWidth": 2.5}, "encoding": {"x": {"field": "p1", "type": "quantitative"}, "x2": {"field": "p2"}, "y": {"field": "val", "type": "quantitative"}}},
        {"data": {"name": "band1"}, "transform": [{"filter": "datum.kind == 'bump'"}], "mark": {"type": "rule", "color": "#8a6450", "strokeWidth": 2}, "encoding": {"x": {"field": "p1", "type": "quantitative"}, "x2": {"field": "p2"}, "y": {"field": "val", "type": "quantitative"}}},
        {"data": {"name": "block1"}, "mark": {"type": "rect", "color": "#a27e66"}, "encoding": {"x": {"field": "p1", "type": "quantitative"}, "x2": {"field": "p2"}, "y": {"field": "val", "type": "quantitative"}, "y2": {"field": "val2"}}},
        {"data": {"name": "block1"}, "mark": {"type": "rule", "color": "#1a1a1a", "strokeWidth": 1.5}, "encoding": {"x": {"field": "p1", "type": "quantitative"}, "x2": {"field": "p2"}, "y": {"field": "val", "type": "quantitative"}}},
        {"data": {"name": "band1"}, "transform": [{"filter": "datum.kind == 'dash'"}], "mark": {"type": "rule", "color": "#707088", "strokeWidth": 1, "strokeDash": [2, 2]}, "encoding": {"x": {"field": "p1", "type": "quantitative"}, "x2": {"field": "p2"}, "y": {"field": "val", "type": "quantitative"}}},
        {"data": {"name": "band1"}, "transform": [{"filter": "datum.kind == 'blk'"}], "mark": {"type": "rule", "color": "#111111", "strokeWidth": 2}, "encoding": {"x": {"field": "p1", "type": "quantitative"}, "x2": {"field": "p2"}, "y": {"field": "val", "type": "quantitative"}}},
        {"data": {"name": "mid1"}, "mark": {"type": "line", "strokeWidth": 2.2}, "encoding": {"x": {"field": "pos", "type": "quantitative"}, "y": {"field": "val", "type": "quantitative"}, "detail": {"field": "seg"}, "color": {"field": "call", "type": "nominal", "scale": {"domain": ["n", "g", "l"], "range": ["#000000", "#2ee82e", "#e01818"]}, "legend": null}}},
        {"data": {"name": "bounds"}, "mark": {"type": "rule", "color": "#f5a030", "strokeWidth": 1, "xOffset": -1.2}, "encoding": {"x": {"field": "pos", "type": "quantitative"}, "y": {"datum": 4.1}, "y2": {"datum": -4.3}}},
        {"data": {"name": "bounds"}, "mark": {"type": "rule", "color": "#40d8d0", "strokeWidth": 1, "xOffset": 1.2}, "encoding": {"x": {"field": "pos", "type": "quantitative"}, "y": {"datum": 4.1}, "y2": {"datum": -4.3}}},
        {"data": {"name": "bounds"}, "mark": {"type": "rule", "color": "#10281c", "strokeWidth": 1.5}, "encoding": {"x": {"field": "pos", "type": "quantitative"}, "y": {"datum": 4.1}, "y2": {"datum": -4.3}}},
        {"data": {"name": "labs"}, "mark": {"type": "text", "font": "Liberation Sans", "fontSize": 8, "color": "#444"}, "encoding": {"x": {"field": "pos", "type": "quantitative"}, "y": {"datum": -4.0}, "text": {"field": "lab"}}}
      ]
    },
    {
      "title": {"text": "SUM159 – ADLH +", "dx": -12},
      "width": 680, "height": 176,
      "layer": [
        {"data": {"name": "band2"}, "transform": [{"filter": "datum.kind == 'tan'"}], "mark": {"type": "rule", "color": "#d8a850", "strokeWidth": 2}, "encoding": {"x": {"field": "p1", "type": "quantitative", "scale": {"domain": [-0.125, 3.227], "nice": false, "zero": false}, "axis": {"title": "distance in Mb", "values": [0, 0.5, 1, 1.5, 2, 2.5, 3], "labelExpr": "datum.value == 0 ? '0.0e+00' : (datum.value < 1 ? format(datum.value * 10, '.1f') + 'e+08' : format(datum.value, '.1f') + 'e+09')"}}, "x2": {"field": "p2"}, "y": {"field": "val", "type": "quantitative", "scale": {"domain": [-4.3, 4.35], "nice": false, "zero": false}, "axis": {"title": "log2 ratio", "values": [-4, -2, 0, 2, 4], "labelAngle": 270, "labelAlign": "center", "labelBaseline": "bottom", "labelPadding": 9, "labelExpr": "datum.value < 0 ? '-' + abs(datum.value) : '' + datum.value"}}}},
        {"data": {"name": "band2"}, "transform": [{"filter": "datum.kind == 'red'"}], "mark": {"type": "rule", "color": "#a04848", "strokeWidth": 1}, "encoding": {"x": {"field": "p1", "type": "quantitative"}, "x2": {"field": "p2"}, "y": {"field": "val", "type": "quantitative"}}},
        {"data": {"name": "band2"}, "transform": [{"filter": "datum.kind == 'brown'"}], "mark": {"type": "rule", "color": "#d8aa50", "strokeWidth": 2.5}, "encoding": {"x": {"field": "p1", "type": "quantitative"}, "x2": {"field": "p2"}, "y": {"field": "val", "type": "quantitative"}}},
        {"data": {"name": "block2"}, "mark": {"type": "rect", "color": "#5c5680"}, "encoding": {"x": {"field": "p1", "type": "quantitative"}, "x2": {"field": "p2"}, "y": {"field": "val", "type": "quantitative"}, "y2": {"field": "val2"}}},
        {"data": {"name": "band2"}, "transform": [{"filter": "datum.kind == 'dash'"}], "mark": {"type": "rule", "color": "#707088", "strokeWidth": 1, "strokeDash": [2, 2]}, "encoding": {"x": {"field": "p1", "type": "quantitative"}, "x2": {"field": "p2"}, "y": {"field": "val", "type": "quantitative"}}},
        {"data": {"name": "band2"}, "transform": [{"filter": "datum.kind == 'blk'"}], "mark": {"type": "rule", "color": "#3a3058", "strokeWidth": 2}, "encoding": {"x": {"field": "p1", "type": "quantitative"}, "x2": {"field": "p2"}, "y": {"field": "val", "type": "quantitative"}}},
        {"data": {"name": "mid2"}, "mark": {"type": "line", "strokeWidth": 2.2}, "encoding": {"x": {"field": "pos", "type": "quantitative"}, "y": {"field": "val", "type": "quantitative"}, "detail": {"field": "seg"}, "color": {"field": "call", "type": "nominal", "scale": {"domain": ["n", "g", "l"], "range": ["#000000", "#2ee82e", "#e01818"]}, "legend": null}}},
        {"data": {"name": "bounds"}, "mark": {"type": "rule", "color": "#f5a030", "strokeWidth": 1, "xOffset": -1.2}, "encoding": {"x": {"field": "pos", "type": "quantitative"}, "y": {"datum": 4.1}, "y2": {"datum": -4.3}}},
        {"data": {"name": "bounds"}, "mark": {"type": "rule", "color": "#40d8d0", "strokeWidth": 1, "xOffset": 1.2}, "encoding": {"x": {"field": "pos", "type": "quantitative"}, "y": {"datum": 4.1}, "y2": {"datum": -4.3}}},
        {"data": {"name": "bounds"}, "mark": {"type": "rule", "color": "#10281c", "strokeWidth": 1.5}, "encoding": {"x": {"field": "pos", "type": "quantitative"}, "y": {"datum": 4.1}, "y2": {"datum": -4.3}}},
        {"data": {"name": "labs"}, "mark": {"type": "text", "font": "Liberation Sans", "fontSize": 8, "color": "#444"}, "encoding": {"x": {"field": "pos", "type": "quantitative"}, "y": {"datum": -4.0}, "text": {"field": "lab"}}}
      ]
    }
  ]
}
